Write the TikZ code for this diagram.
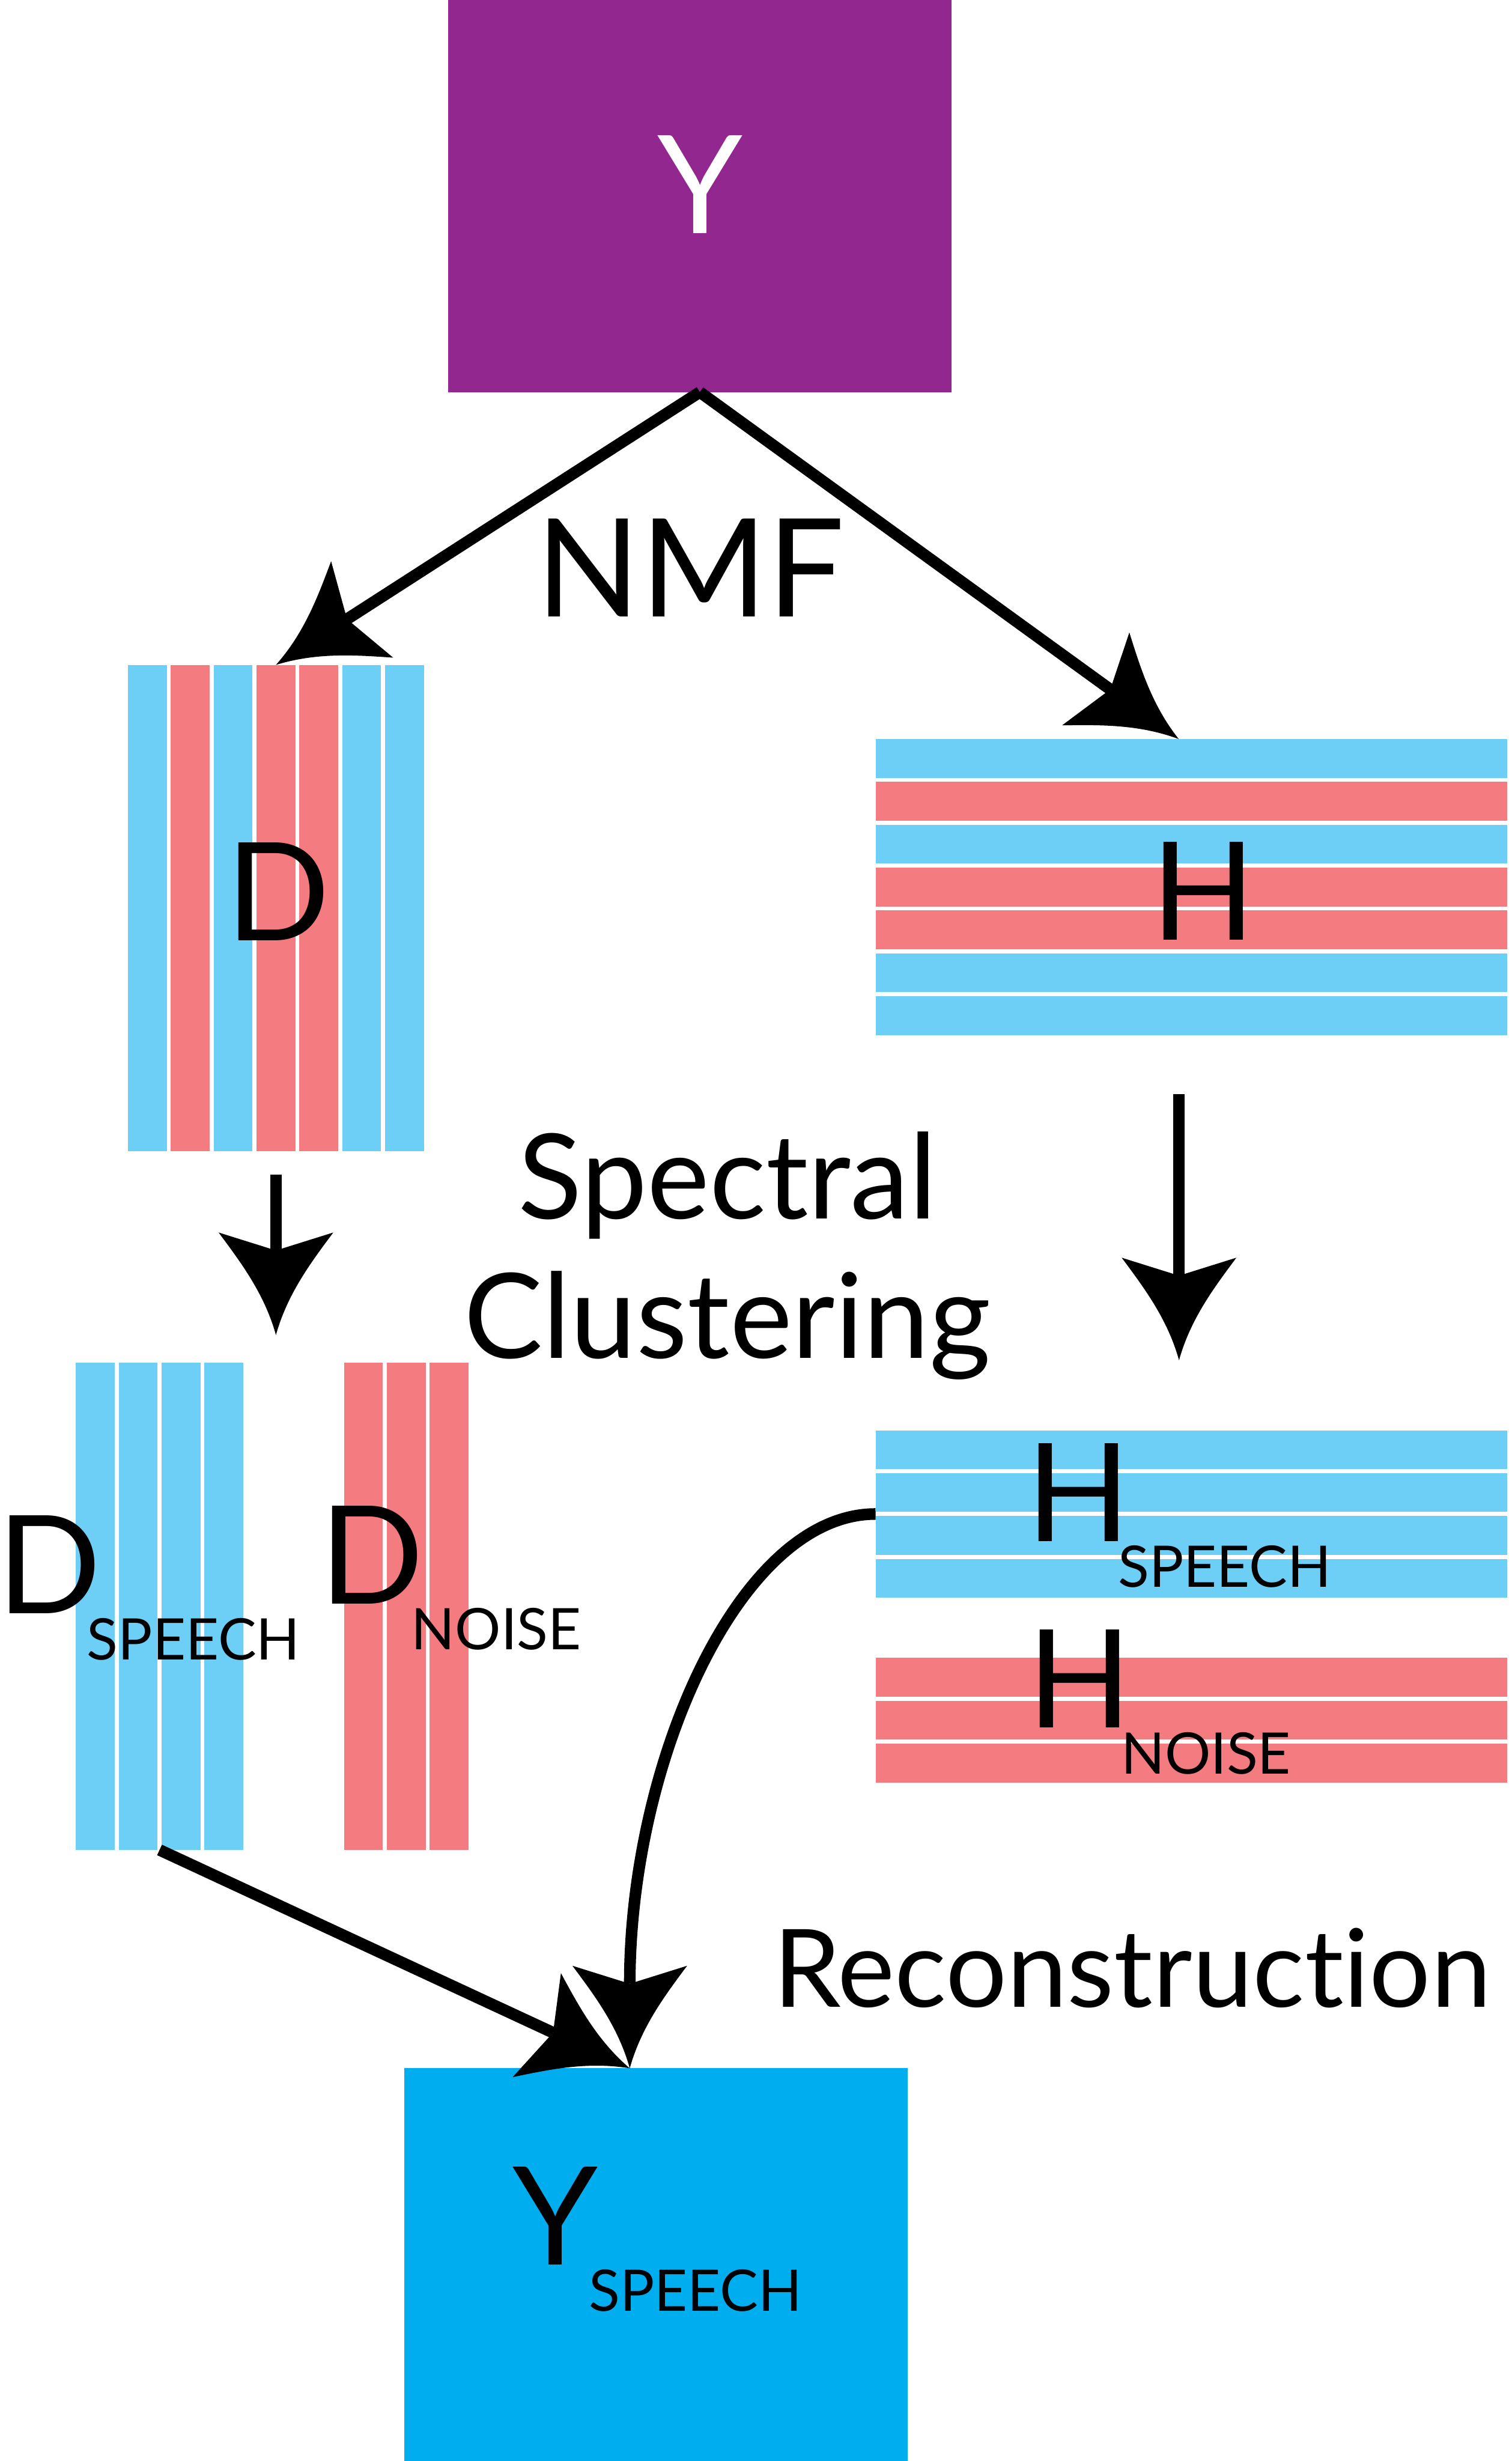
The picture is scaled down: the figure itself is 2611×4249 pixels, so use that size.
\documentclass[tikz,border=0pt]{standalone}
\usepackage{fontspec}
\setmainfont{Lato}[Ligatures={NoCommon,NoRare,NoContextual}]
\usetikzlibrary{arrows.meta,calc}
\definecolor{mixpurple}{HTML}{92278F}
\definecolor{speechblue}{HTML}{00AEEF}
\definecolor{stripeblue}{HTML}{6DCFF6}
\definecolor{stripered}{HTML}{F47B7F}
% swept arrow head with hollow flanks
\pgfdeclarearrow{
  name = Swept,
  parameters = {\the\pgfarrowlength,\the\pgfarrowwidth,\the\pgfarrowinset},
  setup code = {
    \pgfarrowssettipend{\pgfarrowlength}
    \pgfarrowssetlineend{\pgfarrowinset}
    \pgfarrowssetbackend{0pt}
    \pgfarrowssavethe\pgfarrowlength
    \pgfarrowssavethe\pgfarrowwidth
    \pgfarrowssavethe\pgfarrowinset
  },
  drawing code = {
    \pgfpathmoveto{\pgfqpoint{\pgfarrowlength}{0pt}}
    \pgfpathcurveto{\pgfqpoint{.6\pgfarrowlength}{.1\pgfarrowwidth}}{\pgfqpoint{.3\pgfarrowlength}{.3\pgfarrowwidth}}{\pgfqpoint{0pt}{.5\pgfarrowwidth}}
    \pgfpathlineto{\pgfqpoint{\pgfarrowinset}{0pt}}
    \pgfpathlineto{\pgfqpoint{0pt}{-.5\pgfarrowwidth}}
    \pgfpathcurveto{\pgfqpoint{.3\pgfarrowlength}{-.3\pgfarrowwidth}}{\pgfqpoint{.6\pgfarrowlength}{-.1\pgfarrowwidth}}{\pgfqpoint{\pgfarrowlength}{0pt}}
    \pgfpathclose
    \pgfusepathqfill
  },
  defaults = {length=177pt,width=198pt,inset=31pt}
}
\tikzset{
  blk/.style ={inner sep=0pt,outer sep=0pt},
  big/.style ={font=\fontsize{236}{236}\selectfont,inner sep=0pt,anchor=base},
  tag/.style ={font=\fontsize{99}{99}\selectfont,inner sep=0pt,anchor=base},
  stage/.style={font=\fontsize{204}{241}\selectfont,inner sep=0pt,align=center},
  ar/.style  ={-{Swept},line width=20pt},
}

\begin{document}
\begin{tikzpicture}[x=1pt,y=1pt]
\useasboundingbox (0,0) rectangle (2611,4249);
% mixture spectrogram
\node[blk,fill=mixpurple,minimum width=869pt,minimum height=677pt] (Y) at (1208.5,3910.5) {};
% dictionary and activations
\node[blk,minimum width=511pt,minimum height=840pt] (D) at (476.5,2681) {};
\node[blk,minimum width=1091pt,minimum height=511pt] (H) at (2057.5,2717.5) {};
\foreach \c [count=\i from 0] in {stripeblue,stripered,stripeblue,stripered,stripered,stripeblue,stripeblue}{
  \fill[\c] ([xshift=\i*74pt]D.north west) rectangle ([xshift=\i*74pt+67pt]D.south west);
  \fill[\c] ([yshift=-\i*74pt]H.north west) rectangle ([yshift=-\i*74pt-67pt]H.north east);
}
% clustered parts
\node[blk,minimum width=289pt,minimum height=841pt] (Dsp) at (275.5,1475.5) {};
\node[blk,minimum width=215pt,minimum height=841pt] (Dno) at (701.5,1475.5) {};
\node[blk,minimum width=1091pt,minimum height=289pt] (Hsp) at (2057.5,1635) {};
\node[blk,minimum width=1091pt,minimum height=215pt] (Hno) at (2057.5,1279) {};
\foreach \i in {0,...,3}{
  \fill[stripeblue] ([xshift=\i*74pt]Dsp.north west) rectangle ([xshift=\i*74pt+67pt]Dsp.south west);
  \fill[stripeblue] ([yshift=-\i*74pt]Hsp.north west) rectangle ([yshift=-\i*74pt-67pt]Hsp.north east);
}
\foreach \i in {0,...,2}{
  \fill[stripered] ([xshift=\i*74pt]Dno.north west) rectangle ([xshift=\i*74pt+67pt]Dno.south west);
  \fill[stripered] ([yshift=-\i*74pt]Hno.north west) rectangle ([yshift=-\i*74pt-67pt]Hno.north east);
}
% separated speech
\node[blk,fill=speechblue,minimum width=869pt,minimum height=678pt] (Ysp) at (1132.5,339) {};
% labels
\node[big,text=white] (Ylbl) at (1208.8,3846) {Y};
\node[big] (nmf) at (1192.5,3184) {NMF};
\node[big] (Dlbl) at (480.5,2625) {D};
\node[big] (Hlbl) at (2078.5,2626) {H};
\node[stage] (clus) at (1256,2081) {Spectral\\Clustering};
\node[big] (Dsplbl) at (85.5,1463) {D};
\node[tag] (Dsptag) at (334.2,1383.5) {SPEECH};
\node[big] (Dnolbl) at (642.2,1480) {D};
\node[tag] (Dnotag) at (857,1401) {NOISE};
\node[big] (Hsplbl) at (1862.5,1588) {H};
\node[tag] (Hsptag) at (2115,1509) {SPEECH};
\node[big] (Hnolbl) at (1864,1266) {H};
\node[tag] (Hnotag) at (2082.5,1186) {NOISE};
\node[big] (Ysplbl) at (959,339) {Y};
\node[tag] (Ysptag) at (1201,259) {SPEECH};
\node[font=\fontsize{187}{187}\selectfont,inner sep=0pt,anchor=base] (recon) at (1955,784) {Reconstruction};
% arrows
\draw[ar] (Y.south) -- (D.north);
\draw[ar] (Y.south) -- ([xshift=-22pt]H.north);
\draw[ar,shorten <=40pt,shorten >=48pt] (D.south) -- (D.south |- Dsp.north);
\draw[ar,shorten <=102pt,shorten >=121pt] ([xshift=-21.5pt]H.south) -- ([xshift=-21.5pt]Hsp.north);
\draw[ar] (Dsp.south) -- ([xshift=-45pt]Ysp.north);
\draw[ar] (Hsp.west) to[out=180,in=90,out distance=235pt,in distance=528pt] ([xshift=-45pt]Ysp.north);
\end{tikzpicture}
\end{document}
